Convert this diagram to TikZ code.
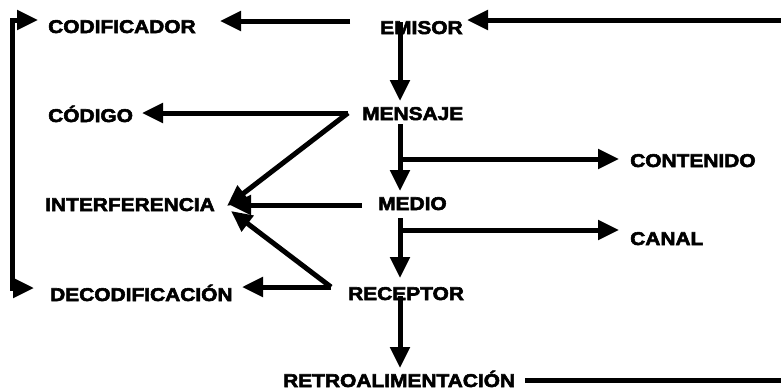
\documentclass[tikz,border=0pt]{standalone}
\usepackage{fontspec}
\newfontfamily\lab{Liberation Sans}[FakeStretch=1.13,BoldFeatures={FakeBold=3}]
\usetikzlibrary{arrows.meta}
\begin{document}
\begin{tikzpicture}[x=1pt,y=-1pt,
  lbl/.style={anchor=base west,inner sep=0pt,font=\lab\bfseries\fontsize{18.5}{20}\selectfont},
  arr/.style={line width=5pt,-{Triangle[length=21pt,width=19pt]}},
  ln/.style={line width=5pt}]
\useasboundingbox (0,0) rectangle (781,391);
% labels
\node[lbl] (cod) at (48,33) {CODIFICADOR};
\node[lbl] (emi) at (380,34) {EMISOR};
\node[lbl] (cdg) at (48,122) {CÓDIGO};
\node[lbl] (men) at (362,120) {MENSAJE};
\node[lbl] (con) at (630,167) {CONTENIDO};
\node[lbl] (int) at (45,211) {INTERFERENCIA};
\node[lbl] (med) at (378,210) {MEDIO};
\node[lbl] (can) at (630,245) {CANAL};
\node[lbl] (dec) at (50,301) {DECODIFICACIÓN};
\node[lbl] (rec) at (348,300) {RECEPTOR};
\node[lbl] (ret) at (283,387) {RETROALIMENTACIÓN};
% coordinates
\coordinate (emiL) at (350,21);
\coordinate (codT) at (220,21);
\coordinate (edge) at (781,20);
\coordinate (emiT) at (467,20);
\coordinate (emiB) at (400,22);
\coordinate (menT) at (400,101);
\coordinate (j1) at (348,113);
\coordinate (cdgT) at (142,113);
\coordinate (intT1) at (227,206);
\coordinate (menB) at (400,124);
\coordinate (medT) at (400,191);
\coordinate (b1) at (400,159);
\coordinate (conT) at (619,159);
\coordinate (medL) at (362,205);
\coordinate (intT2) at (230,205);
\coordinate (medB) at (400,218);
\coordinate (recT) at (400,278);
\coordinate (b2) at (400,230);
\coordinate (canT) at (619,230);
\coordinate (j2) at (331,287);
\coordinate (decT) at (242,287);
\coordinate (intT3) at (231,211);
\coordinate (recB) at (400,296);
\coordinate (retT) at (400,368);
\coordinate (retR) at (525,380);
\coordinate (edge2) at (781,380);
\coordinate (brT) at (38,20);
\coordinate (brTL) at (12,20);
\coordinate (brBL) at (12,288);
\coordinate (brB) at (34,288);
% connectors
\draw[arr] (emiL) -- (codT);
\draw[arr] (edge) -- (emiT);
\draw[arr] (emiB) -- (menT);
\draw[arr] (j1) -- (cdgT);
\draw[arr,line join=miter] (j1) -- (intT1);
\draw[arr] (menB) -- (medT);
\draw[arr] (b1) -- (conT);
\draw[arr] (medL) -- (intT2);
\draw[arr] (medB) -- (recT);
\draw[arr] (b2) -- (canT);
\draw[arr] (j2) -- (decT);
\draw[arr] (j2) -- (intT3);
\draw[arr] (recB) -- (retT);
\draw[ln] (retR) -- (edge2);
\draw[line width=5pt,{Triangle[length=21pt,width=19pt]}-{Triangle[length=21pt,width=19pt]}] (brT) -- (brTL) -- (brBL) -- (brB);
\end{tikzpicture}
\end{document}
